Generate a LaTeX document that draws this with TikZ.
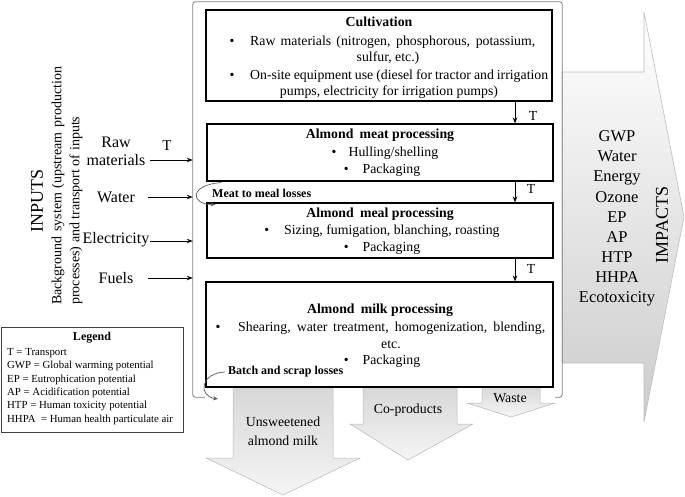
\documentclass[tikz,border=0pt]{standalone}
\usepackage{fontspec}
\setmainfont{Liberation Serif}
\usetikzlibrary{arrows.meta}
\begin{document}
\begin{tikzpicture}[x=1pt,y=-1pt,
  procbox/.style={draw=black, line width=1.1pt, fill=white, inner sep=0pt},
  bodytxt/.style={inner sep=0pt, font=\fontsize{13.8}{17}\selectfont},
  boldtxt/.style={inner sep=0pt, font=\fontsize{13.8}{17}\selectfont\bfseries},
  losslab/.style={inner sep=0pt, font=\fontsize{12}{14}\selectfont\bfseries},
  inlab/.style={inner sep=1pt, font=\fontsize{16}{17.5}\selectfont, align=center},
  bigrot/.style={inner sep=0pt, rotate=90, font=\fontsize{18}{20}\selectfont},
  inarr/.style={-{Stealth[length=6pt,width=4.5pt]}, line width=0.9pt},
  lossarr/.style={-{Stealth[length=5pt,width=4pt]}, draw=black!65, line width=0.7pt},
  bound/.style={draw=black!50, line width=0.8pt, rounded corners=2.5pt},
  outarrow/.style={top color=black!16, bottom color=black!4, draw=black!28, line width=0.5pt},
  imparrow/.style={top color=white, bottom color=black!20, draw=black!25, line width=0.6pt},
  legbox/.style={draw=black!75, line width=1pt, inner sep=0pt},
  legtxt/.style={inner sep=0pt, font=\fontsize{10.8}{13.4}\selectfont, align=left}
]
\useasboundingbox (0,0) rectangle (685,497);

% impacts block arrow
\shade[imparrow] (562,72) -- (644,72) -- (644,12) -- (684,217) -- (644,422) -- (644,363) -- (562,363) -- cycle;
\node[inner sep=0pt, align=center, font=\fontsize{16.5}{20.1}\selectfont] (implist) at (617,218.5)
  {GWP\\Water\\Energy\\Ozone\\EP\\AP\\HTP\\HHPA\\Ecotoxicity};
\node[bigrot] (impacts) at (662,225) {IMPACTS};

% system boundary
\node[draw=none, minimum width=369pt, minimum height=395pt, inner sep=0pt] (sys) at (377.5,199.5) {};
\draw[bound] ([xshift=12pt]sys.south west) -- (sys.south west) -- (sys.north west) -- (sys.north east) -- (sys.south east) -- ([xshift=-7pt]sys.south east);

% output arrows
\shade[outarrow] (233,384) -- (333,384) -- (333,458) -- (360,458) -- (283,495) -- (206,458) -- (233,458) -- cycle;
\shade[outarrow] (363,384) -- (457,384) -- (457,424) -- (473,424) -- (408,460) -- (350,424) -- (363,424) -- cycle;
\shade[outarrow] (482,384) -- (540,384) -- (540,403) -- (555,403) -- (511,417) -- (467,403) -- (482,403) -- cycle;
\node[bodytxt, align=center, font=\fontsize{13.8}{18.5}\selectfont] (unsw) at (283,431.5) {Unsweetened\\almond milk};
\node[bodytxt] (coprod) at (408,410) {Co-products};
\node[bodytxt] (waste) at (510,398) {Waste};

% process boxes
\node[procbox, minimum width=346pt, minimum height=91pt] (cult) at (379,55.5) {};
\node[procbox, minimum width=346pt, minimum height=57pt] (meat) at (380,152.5) {};
\node[procbox, minimum width=346pt, minimum height=55pt] (meal) at (380,230.5) {};
\node[procbox, minimum width=347pt, minimum height=105pt] (milk) at (379.5,334.5) {};

% cultivation text
\node[boldtxt] (cultT) at (379,22) {Cultivation};
\node[bodytxt] (cb1) at (232,42) {\textbullet};
\node[bodytxt, anchor=west] (cl1) at (250,42) {\makebox[285pt][s]{Raw materials (nitrogen, phosphorous, potassium,}};
\node[bodytxt] (cl2) at (388,58) {sulfur, etc.)};
\node[bodytxt] (cb2) at (232,76) {\textbullet};
\node[bodytxt, anchor=west] (cl3) at (250,76) {\makebox[298pt][s]{On-site equipment use (diesel for tractor and irrigation}};
\node[bodytxt] (cl4) at (389,92) {pumps, electricity for irrigation pumps)};

% meat text
\node[boldtxt] (meatT) at (380,135) {Almond\hspace{0.45em}meat processing};
\node[bodytxt] (ml1) at (385,153) {\textbullet\hspace{12pt}Hulling/shelling};
\node[bodytxt] (ml2) at (382,170) {\textbullet\hspace{14pt}Packaging};

% meal text
\node[boldtxt] (mealT) at (380,214) {Almond\hspace{0.45em}meal processing};
\node[bodytxt] (mel1) at (382,231) {\textbullet\hspace{15pt}Sizing, fumigation, blanching, roasting};
\node[bodytxt] (mel2) at (382,248) {\textbullet\hspace{14pt}Packaging};

% milk text
\node[boldtxt] (milkT) at (380,310) {Almond\hspace{0.45em}milk processing};
\node[bodytxt] (mkb1) at (218,328) {\textbullet};
\node[bodytxt, anchor=west] (mk1) at (238,328) {\makebox[307pt][s]{Shearing, water treatment, homogenization, blending,}};
\node[bodytxt] (mk2) at (391,345) {etc.};
\node[bodytxt] (mk3) at (382,361) {\textbullet\hspace{14pt}Packaging};

% losses
\node[losslab, anchor=west] (meatloss) at (212,193) {Meat to meal losses};
\node[losslab, anchor=west] (batch) at (228,372) {Batch and scrap losses};
\draw[lossarr] ([xshift=15pt,yshift=-1pt]meat.south west) .. controls +(-32pt,-2pt) and +(-26pt,0pt) .. ([xshift=9pt,yshift=-2pt]meal.north west);
\coordinate (batchend) at (218,399);
\draw[lossarr] ([xshift=-3pt]batch.west) .. controls +(-25pt,-1pt) and +(-20pt,3pt) .. (batchend);

% transport arrows
\coordinate (tx) at (515,0);
\draw[inarr] (cult.south -| tx) -- (meat.north -| tx);
\draw[inarr] (meat.south -| tx) -- (meal.north -| tx);
\draw[inarr] (meal.south -| tx) -- (milk.north -| tx);
\node[bodytxt] (t1) at (533,116) {T};
\node[bodytxt] (t2) at (531,189) {T};
\node[bodytxt] (t3) at (531,269) {T};

% inputs
\node[bigrot] (inputs) at (37,201) {INPUTS};
\node[rotate=90, anchor=west, align=left, inner sep=0pt, font=\fontsize{14}{18}\selectfont] (bg) at (67,305)
  {\makebox[238pt][s]{Background system (upstream production}\\processes) and transport of inputs};
\node[inlab] (raw) at (116,151.5) {Raw\\materials};
\node[inlab] (water) at (116,197) {Water};
\node[inlab] (elec) at (116,240) {Electricity};
\node[inlab] (fuels) at (116,278) {Fuels};
\node[inlab, font=\fontsize{15}{17}\selectfont] (t0) at (167,146) {T};
\coordinate (rawA) at (150,160);
\coordinate (watA) at (148,197);
\coordinate (elcA) at (150,241);
\coordinate (fueA) at (148,278);
\draw[inarr] (rawA) -- (sys.west |- rawA);
\draw[inarr] (watA) -- (sys.west |- watA);
\draw[inarr] (elcA) -- (sys.west |- elcA);
\draw[inarr] (fueA) -- (sys.west |- fueA);

% legend
\node[legbox, minimum width=182pt, minimum height=105pt] (legend) at (92,379.5) {};
\node[inner sep=0pt, font=\fontsize{12}{14}\selectfont\bfseries] (legT) at (92,338) {Legend};
\node[legtxt, anchor=west] (legL) at (7,386.5)
  {T = Transport\\GWP = Global warming potential\\EP = Eutrophication potential\\AP = Acidification potential\\HTP = Human toxicity potential\\HHPA\ \ = Human health particulate air};
\end{tikzpicture}
\end{document}
